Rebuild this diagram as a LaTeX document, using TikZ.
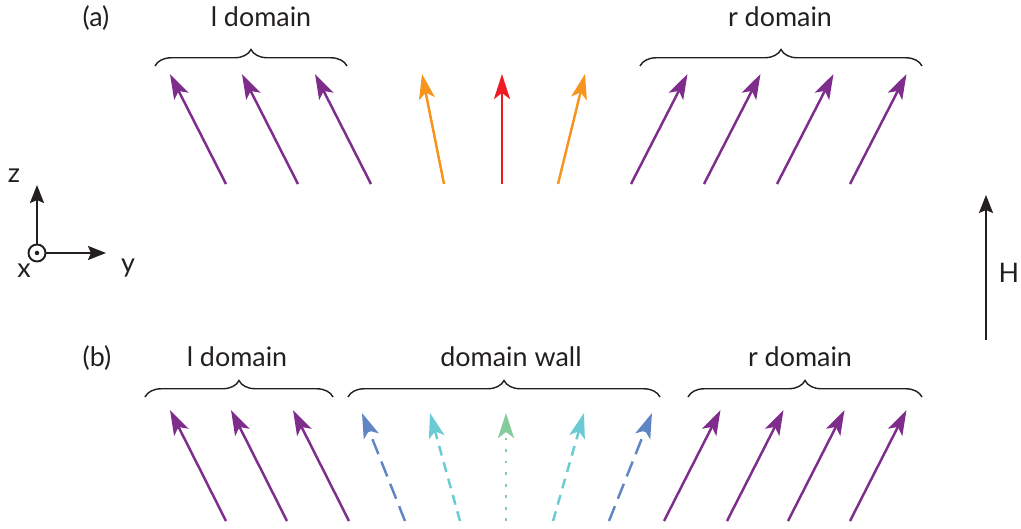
\documentclass[tikz,border=0pt]{standalone}
\usepackage{fontspec}
\setmainfont{Lato}
\usetikzlibrary{arrows.meta,decorations.pathreplacing}
\definecolor{Ink}{RGB}{35,31,32}
\definecolor{SpinPurple}{RGB}{126,45,140}
\definecolor{SpinOrange}{RGB}{247,148,29}
\definecolor{SpinRed}{RGB}{237,28,36}
\definecolor{WallBlue}{RGB}{95,133,197}
\definecolor{WallCyan}{RGB}{106,203,212}
\definecolor{WallGreen}{RGB}{132,204,156}

\begin{document}
\begin{tikzpicture}[x=0.2mm, y=-0.2mm, font=\fontsize{15.3}{18}\selectfont,
  every node/.style={text=Ink},
  spin/.style={line width=1.4pt, -{Stealth[length=5mm, width=3.2mm, inset=1.2mm]}},
  axis/.style={line width=1.1pt, Ink, -{Stealth[length=3.6mm, width=2.8mm, inset=0.6mm]}},
  domainbrace/.style={decorate, decoration={brace, amplitude=3.3mm}, line width=0.8pt, Ink}]
  \useasboundingbox (0,0) rectangle (1021,529);

  % panel (a)
  \node[anchor=base] (labelA) at (96,27) {(a)};
  \node[anchor=base] (ldomA) at (261,27) {l domain};
  \node[anchor=base] (rdomA) at (780,27) {r domain};
  \draw[domainbrace] (155,66) -- (347,66);
  \draw[domainbrace] (640,66) -- (922,66);
  \foreach \t in {226,298,371}
    \draw[spin, SpinPurple] (\t,184) -- ++(-56,-110);
  \foreach \t in {631,704,777,850}
    \draw[spin, SpinPurple] (\t,184) -- ++(56.5,-110);
  \draw[spin, SpinOrange] (444,184) -- (422,74);
  \draw[spin, SpinRed] (502,184) -- (502,74);
  \draw[spin, SpinOrange] (558,184) -- (585,74);

  % axes
  \node[circle, draw=Ink, line width=1.1pt, minimum size=3.4mm, inner sep=0pt] (origin) at (37,253) {};
  \fill[Ink] (origin.center) circle (0.45mm);
  \coordinate (ztip) at (37,185);
  \coordinate (ytip) at (106,253);
  \draw[axis] (origin) -- (ztip);
  \draw[axis] (origin) -- (ytip);
  \node[anchor=base] (zlab) at (14,183) {z};
  \node[anchor=base] (ylab) at (128,273) {y};
  \node[anchor=base] (xlab) at (24,278) {x};

  % field
  \coordinate (Hfoot) at (986,340);
  \coordinate (Htip) at (986,195);
  \draw[axis] (Hfoot) -- (Htip);
  \node[anchor=base] (Hlab) at (1009,283) {H};

  % panel (b)
  \node[anchor=base] (labelB) at (97,367) {(b)};
  \node[anchor=base] (ldomB) at (237,367) {l domain};
  \node[anchor=base] (wallB) at (511,367) {domain wall};
  \node[anchor=base] (rdomB) at (800,367) {r domain};
  \draw[domainbrace] (145,397) -- (333,397);
  \draw[domainbrace] (348,397) -- (660,397);
  \draw[domainbrace] (688,397) -- (922,397);
  \foreach \t in {226,287,349}
    \draw[spin, SpinPurple] (\t,521) -- ++(-56,-111);
  \foreach \t in {664,727,788,850}
    \draw[spin, SpinPurple] (\t,521) -- ++(56.5,-111);
  \draw[spin, WallBlue, dash pattern=on 3.2mm off 1.6mm] (405,521) -- (362,413);
  \draw[spin, WallCyan, dash pattern=on 2mm off 1.4mm] (460,521) -- (430,413);
  \draw[spin, WallGreen, line width=1.6pt, dash pattern=on 0.55mm off 1.75mm] (506,521) -- (506,413);
  \draw[spin, WallCyan, dash pattern=on 2mm off 1.4mm] (553,521) -- (584,413);
  \draw[spin, WallBlue, dash pattern=on 3.2mm off 1.6mm] (609,521) -- (652,413);
\end{tikzpicture}
\end{document}
